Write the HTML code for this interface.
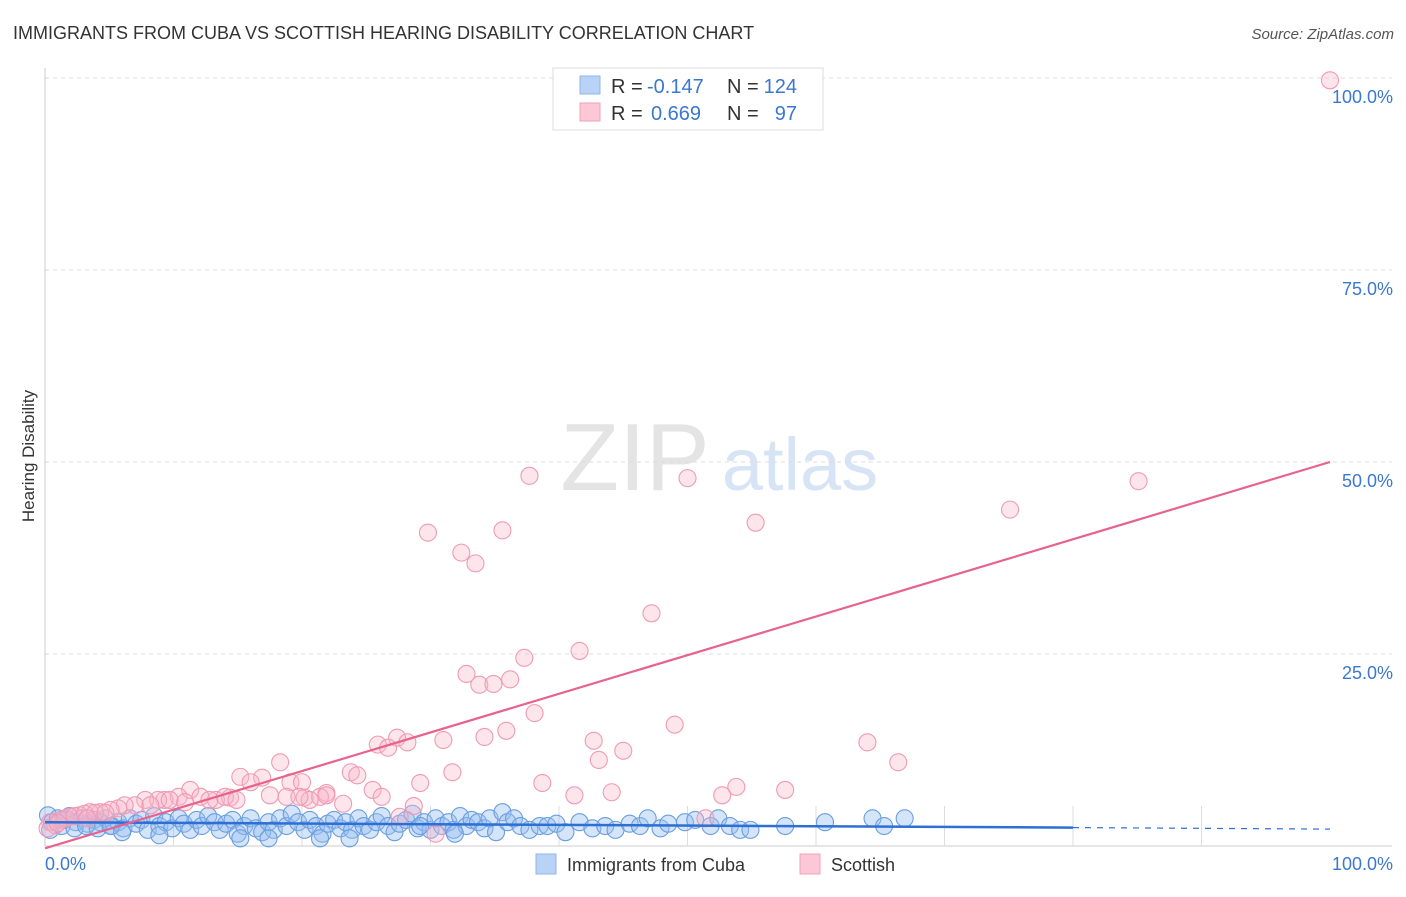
<!DOCTYPE html>
<html><head><meta charset="utf-8"><style>
body{margin:0;background:#fff;font-family:"Liberation Sans",sans-serif;}
svg text{font-family:"Liberation Sans",sans-serif;}
</style></head><body>
<svg id="chart" width="1406" height="892" xmlns="http://www.w3.org/2000/svg">
<text x="13" y="39" font-size="18" fill="#333">IMMIGRANTS FROM CUBA VS SCOTTISH HEARING DISABILITY CORRELATION CHART</text>
<text x="1394" y="39" font-size="15" fill="#555" text-anchor="end" font-style="italic">Source: ZipAtlas.com</text>
<text transform="translate(34,456) rotate(-90)" font-size="17" fill="#333" text-anchor="middle">Hearing Disability</text>
<g>
<text x="635" y="490" font-size="96" fill="#e4e4e4" text-anchor="middle" font-family="Liberation Serif">ZIP</text>
<text x="800" y="490" font-size="74" fill="#d6e4f5" text-anchor="middle">atlas</text>
</g>
<g id="grid"></g>
<g id="axes"></g>
<g id="blue"></g>
<g id="pink"></g>
<g id="lines"></g>
<g>
<rect x="553" y="68" width="270" height="62" fill="#fff" stroke="#ddd"/>
<rect x="580" y="76" width="20" height="18" fill="#b8d3f5" stroke="#8fb5e8"/>
<rect x="580" y="103" width="20" height="18" fill="#fcc8d8" stroke="#f0a0b8"/>
<text x="611" y="93" font-size="20" fill="#333">R =</text>
<text x="647" y="93" font-size="20" fill="#3a78d0">-0.147</text>
<text x="727" y="93" font-size="20" fill="#333">N =</text>
<text x="797" y="93" font-size="20" fill="#3a78d0" text-anchor="end">124</text>
<text x="611" y="120" font-size="20" fill="#333">R =</text>
<text x="651" y="120" font-size="20" fill="#3a78d0">0.669</text>
<text x="727" y="120" font-size="20" fill="#333">N =</text>
<text x="797" y="120" font-size="20" fill="#3a78d0" text-anchor="end">97</text>
</g>
<g>
<rect x="536" y="854" width="20" height="20" fill="#b8d3f5" stroke="#8fb5e8"/>
<text x="567" y="871" font-size="18" fill="#333">Immigrants from Cuba</text>
<rect x="800" y="854" width="20" height="20" fill="#fcc8d8" stroke="#f0a0b8"/>
<text x="831" y="871" font-size="18" fill="#333">Scottish</text>
</g>
</svg>
<script>
const blueX=[0.23,0.54,1.0,1.5,1.9,2.4,2.9,3.3,3.8,4.3,4.7,5.2,5.7,6.1,6.6,7.1,7.5,8.0,8.5,8.9,9.4,9.9,10.4,10.8,11.3,11.8,12.2,12.7,13.2,13.6,14.1,14.6,15.0,15.5,16.0,16.4,16.9,17.4,17.8,18.3,18.8,19.2,19.7,20.2,20.6,21.1,21.6,22.0,22.5,23.0,23.4,23.9,24.4,24.8,25.3,25.8,26.2,26.7,27.2,27.6,28.1,28.6,29.0,29.5,30.0,30.4,30.9,31.4,31.8,32.3,32.8,33.2,33.7,34.2,34.6,35.1,35.6,36.0,36.5,37.0,37.7,38.5,39.1,39.8,40.5,41.6,42.6,43.6,44.4,45.5,46.3,46.9,47.9,48.5,49.8,50.6,51.8,52.4,53.3,54.1,54.9,57.6,60.7,64.4,65.3,66.9,8.9,21.4,15.2,17.4,23.7,29.2,31.9,0.4,1.3,2.3,3.2,4.1,5.1,6.0];
const blueY=[4.0,3.1,3.6,3.4,3.9,3.1,3.6,2.9,3.4,3.1,3.6,2.6,3.1,2.3,3.6,2.9,3.4,2.1,3.9,2.6,3.1,2.3,3.6,2.9,2.1,3.4,2.6,3.9,3.1,2.1,2.9,3.4,1.6,2.6,3.6,2.3,1.8,3.1,2.1,3.6,2.6,4.2,3.1,2.1,3.4,2.6,1.6,2.9,3.4,2.3,3.1,2.1,3.6,2.6,2.1,3.1,3.9,2.6,1.8,2.9,3.4,4.2,2.3,3.1,2.1,3.6,2.6,3.1,2.1,3.9,2.6,3.4,3.1,2.3,3.6,1.8,4.4,3.1,3.6,2.6,2.1,2.6,2.6,2.9,1.8,3.1,2.3,2.6,2.1,2.9,2.6,3.6,2.3,2.9,3.1,3.4,2.6,3.6,2.6,2.1,2.1,2.6,3.1,3.6,2.6,3.6,1.4,1.0,1.0,1.0,1.0,2.6,1.6,2.1,2.6,2.3,2.6,2.3,2.6,1.8];
const pinkX=[100,37.7,50.0,85.1,75.1,55.3,29.8,35.6,32.4,33.5,47.2,41.6,37.3,32.8,33.8,34.9,36.2,38.1,49.0,64.0,27.4,28.2,25.9,26.7,31.0,34.2,35.9,42.7,45.0,43.1,66.4,18.3,31.7,23.8,24.3,15.2,16.9,16.0,11.3,38.7,29.2,53.8,57.6,25.5,21.9,19.1,20.0,44.1,41.2,52.7,14.4,20.2,21.4,21.9,20.6,26.2,23.2,28.7,18.8,17.5,13.3,12.1,10.4,9.3,8.8,7.8,7.0,6.2,5.7,5.1,4.3,3.5,2.7,1.9,1.2,0.4,0.8,1.6,2.3,3.1,3.9,4.7,8.2,9.7,10.9,12.8,14.0,14.9,19.8,27.6,30.4,51.4,0.2,1.0,3.3];
const pinkY=[99.7,48.2,47.9,47.5,43.8,42.1,40.8,41.1,38.2,36.8,30.3,25.4,24.5,22.4,21.0,21.1,21.7,17.3,15.8,13.5,14.1,13.5,13.2,12.8,13.8,14.2,15.0,13.7,12.4,11.2,10.9,10.9,9.6,9.6,9.2,9.0,8.9,8.3,7.3,8.2,8.2,7.7,7.3,7.3,6.9,8.3,8.3,7.0,6.6,6.6,6.3,6.3,6.4,6.6,6.0,6.4,5.5,5.2,6.4,6.6,6.0,6.4,6.4,6.0,6.0,6.0,5.3,5.3,4.9,4.7,4.4,4.4,4.0,3.8,3.4,3.1,2.7,3.6,3.9,4.2,4.3,4.3,5.3,6.0,5.7,6.0,6.4,6.0,6.4,3.8,1.6,3.6,2.3,3.0,3.6];
const yTicks=[25,50,75,100];
const yTickLabels=["25.0%","50.0%","75.0%","100.0%"];
const xTicks=[10,20,30,40,50,60,70,80,90];
const blueTrend=[[0,3.1],[80,2.4],[100,2.2]];
const pinkTrend=[[0,-0.3],[100,50]];
const NS="http://www.w3.org/2000/svg";
const X0=45,X1=1330,Y0=846,Y1=78;
const sx=v=>X0+(X1-X0)*v/100, sy=v=>Y0-(Y0-Y1)*v/100;
function mk(tag,attrs,parent){const e=document.createElementNS(NS,tag);for(const k in attrs)e.setAttribute(k,attrs[k]);parent.appendChild(e);return e;}
const grid=document.getElementById('grid'),axes=document.getElementById('axes');
yTicks.forEach((t,i)=>{
 const l=mk('line',{x1:X0,x2:1392,y1:sy(t),y2:sy(t),stroke:'#ddd','stroke-dasharray':'4,4'},grid);
 
 
 const tx=mk('text',{x:1393,y:sy(t)+25,'font-size':18,fill:'#3a78d0','text-anchor':'end'},axes);
 tx.textContent=yTickLabels[i];
 
 
});
const ya=mk('line',{x1:X0,x2:X0,y1:68,y2:Y0,stroke:'#ccc'},axes);


const xa=mk('line',{x1:X0,x2:1392,y1:Y0,y2:Y0,stroke:'#ccc'},axes);


xTicks.forEach(t=>{const l=mk('line',{x1:sx(t),x2:sx(t),y1:Y0,y2:Y0-40,stroke:'#ddd'},axes);
 
 });
const xl0=mk('text',{x:45,y:870,'font-size':18,fill:'#3a78d0'},axes);xl0.textContent='0.0%';


const xl1=mk('text',{x:1393,y:870,'font-size':18,fill:'#3a78d0','text-anchor':'end'},axes);xl1.textContent='100.0%';


const bg=document.getElementById('blue');
blueX.forEach((x,i)=>{const c=mk('circle',{cx:sx(x),cy:sy(blueY[i]),r:8.5,fill:'rgba(150,190,240,0.4)',stroke:'#6a9ee0','stroke-width':1.1},bg);
 
 });
const pg=document.getElementById('pink');
pinkX.forEach((x,i)=>{const c=mk('circle',{cx:sx(x),cy:sy(pinkY[i]),r:8.5,fill:'rgba(250,180,200,0.35)',stroke:'#f09ab4','stroke-width':1.1},pg);
 
 });
const lg=document.getElementById('lines');
const b1=mk('line',{x1:sx(blueTrend[0][0]),y1:sy(blueTrend[0][1]),x2:sx(blueTrend[1][0]),y2:sy(blueTrend[1][1]),stroke:'#2d6fd4','stroke-width':2.5},lg);


const b2=mk('line',{x1:sx(blueTrend[1][0]),y1:sy(blueTrend[1][1]),x2:sx(blueTrend[2][0]),y2:sy(blueTrend[2][1]),stroke:'#2d6fd4','stroke-width':1.2,'stroke-dasharray':'6,6'},lg);


const p1=mk('line',{x1:sx(pinkTrend[0][0]),y1:sy(pinkTrend[0][1]),x2:sx(pinkTrend[1][0]),y2:sy(pinkTrend[1][1]),stroke:'#e8628e','stroke-width':2.2},lg);


</script>
</body></html>
